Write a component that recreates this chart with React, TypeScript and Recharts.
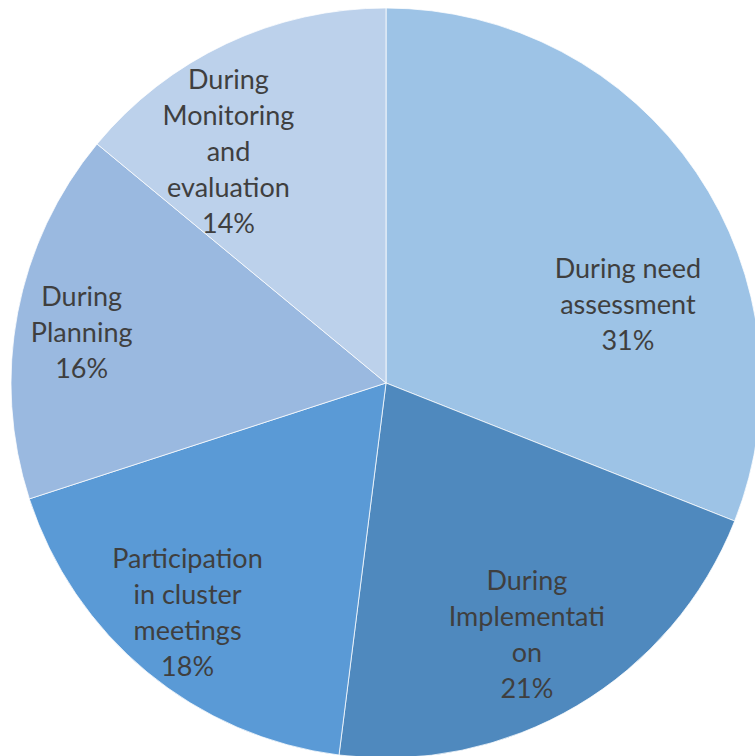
import { Cell, Pie, PieChart } from 'recharts';

const categories = [
  'During need assessment',
  'During Implementation',
  'Participation in cluster meetings',
  'During Planning',
  'During Monitoring and evaluation',
];
const shares = [31, 21, 18, 16, 14];
// how each category label wraps inside its slice
const labelLines = [
  ['During need', 'assessment'],
  ['During', 'Implementati', 'on'],
  ['Participation', 'in cluster', 'meetings'],
  ['During', 'Planning'],
  ['During', 'Monitoring', 'and', 'evaluation'],
];
const colors = ['#9DC3E6', '#4F89BE', '#5A9AD6', '#9AB9E0', '#BCD1EB'];

// small per-slice shifts so the labels sit where they fit best
const nudges = [
  [0, 84],
  [-8, -2],
  [-12, 3],
  [-17, 3],
  [-33, 32],
];

const data = categories.map((name, i) => ({ name, value: shares[i] }));
const RADIAN = Math.PI / 180;

function SliceLabel(props: any) {
  const { cx, cy, midAngle, outerRadius, index, percent } = props;
  const r = outerRadius * 0.78;
  const x = cx + r * Math.cos(-midAngle * RADIAN) + nudges[index][0];
  const y = cy + r * Math.sin(-midAngle * RADIAN) + nudges[index][1];
  const lines = [...labelLines[index], `${Math.round(percent * 100)}%`];
  const step = 36;
  const top = y - ((lines.length - 1) * step) / 2;
  return (
    <text
      x={x}
      y={top}
      fill="#3f3f3f"
      fontSize={27}
      fontFamily="Lato, 'Open Sans', sans-serif"
      textAnchor="middle"
      dominantBaseline="central"
    >
      {lines.map((line, i) => (
        <tspan key={i} x={x} y={top + i * step}>
          {line}
        </tspan>
      ))}
    </text>
  );
}

export default function App() {
  return (
    <div style={{ position: 'fixed', left: 0, top: 0, width: 755, height: 756, overflow: 'hidden', background: '#fff' }}>
      <PieChart width={755} height={756} margin={{ top: 0, right: 0, bottom: 0, left: 0 }}>
        <Pie
          data={data}
          dataKey="value"
          nameKey="name"
          cx={386}
          cy={383}
          outerRadius={375}
          startAngle={90}
          endAngle={-270}
          stroke="#ffffff"
          strokeWidth={0.75}
          labelLine={false}
          label={SliceLabel}
          isAnimationActive={false}
        >
          {data.map((entry, i) => (
            <Cell key={entry.name} fill={colors[i]} />
          ))}
        </Pie>
      </PieChart>
    </div>
  );
}
